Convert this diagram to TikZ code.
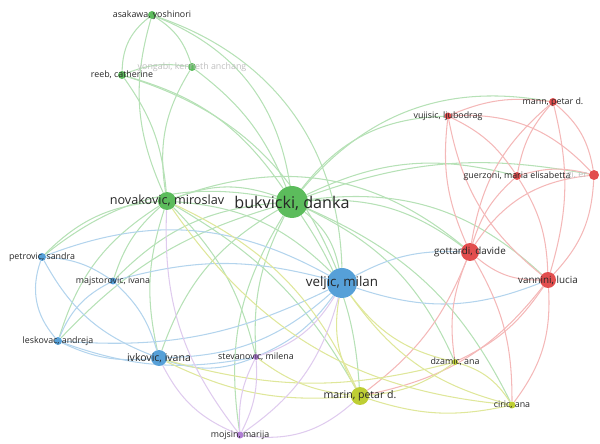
\documentclass[tikz,border=0pt]{standalone}
\usepackage{fontspec}
\setmainfont{Open Sans}
\usetikzlibrary{backgrounds}

\definecolor{vgreen}{RGB}{92,188,92}
\definecolor{vblue}{RGB}{86,160,216}
\definecolor{vred}{RGB}{226,78,78}
\definecolor{vyellow}{RGB}{190,206,52}
\definecolor{vpurple}{RGB}{176,126,212}

\tikzset{
  au/.style={circle, inner sep=0pt, minimum size=#1*0.71pt},
  lbl/.style={font=\fontsize{#1}{#1}\selectfont, text=black!85, inner sep=0pt},
  gedge/.style={vgreen!45, line width=0.75pt},
  bedge/.style={vblue!45, line width=0.75pt},
  redge/.style={vred!40, line width=0.75pt},
  yedge/.style={vyellow!50, line width=0.75pt},
  pedge/.style={vpurple!40, line width=0.75pt},
}

\begin{document}
\begin{tikzpicture}[x=0.025cm, y=-0.025cm]
\useasboundingbox (0,0) rectangle (600,444);

\node[au=8, fill=vgreen, label={[lbl=6.3]center:asakawa, yoshinori}] (asakawa) at (152,15) {};
\node[au=8, fill=vgreen, label={[lbl=6.3]center:reeb, catherine}] (reeb) at (122,75) {};
\node[au=8, fill=vgreen, label={[lbl=6.3, text=black!25]center:yongabi, kenneth anchang}] (yongabi) at (192,67) {};
\node[au=18, fill=vgreen, label={[lbl=9]center:novakovic, miroslav}] (novakovic) at (167,201) {};
\node[au=32, fill=vgreen, label={[lbl=11.5, yshift=-1pt]center:bukvicki, danka}] (bukvicki) at (292,202) {};

\node[au=30, fill=vblue, label={[lbl=9.5]center:veljic, milan}] (veljic) at (342,283) {};
\node[au=16, fill=vblue, label={[lbl=7.5]center:ivkovic, ivana}] (ivkovic) at (159,358) {};
\node[au=8, fill=vblue, label={[lbl=6.3]center:petrovic, sandra}] (petrovic) at (42,257) {};
\node[au=7, fill=vblue, label={[lbl=6.3]center:majstorovic, ivana}] (majstorovic) at (113,281) {};
\node[au=8, fill=vblue, label={[lbl=6.3]center:leskovac, andreja}] (leskovac) at (58,341) {};

\node[au=18, fill=vred, label={[lbl=7]center:gottardi, davide}] (gottardi) at (470,252) {};
\node[au=16, fill=vred, label={[lbl=7]center:vannini, lucia}] (vannini) at (548,280) {};
\node[au=7, fill=vred, label={[lbl=6.3]center:vujisic, ljubodrag}] (vujisic) at (448,116) {};
\node[au=8, fill=vred, label={[lbl=6.3]center:mann, petar d.}] (mann) at (553,102) {};
\node[au=8, fill=vred, label={[lbl=6.3]center:guerzoni, maria elisabetta}] (guerzoni) at (517,176) {};
\node[au=10, fill=vred, label={[lbl=6.3, text=black!25, anchor=east, xshift=-1pt]west:gi, er}] (tagi) at (594,175) {};

\node[au=18, fill=vyellow, label={[lbl=7.5]center:marin, petar d.}] (marin) at (360,396) {};
\node[au=6, fill=vyellow, label={[lbl=6.3]center:dzamic, ana}] (dzamic) at (455,362) {};
\node[au=7, fill=vyellow, label={[lbl=6.3]center:ciric, ana}] (ciric) at (512,405) {};

\node[au=6, fill=vpurple, label={[lbl=6.3]center:stevanovic, milena}] (stevanovic) at (256,357) {};
\node[au=7, fill=vpurple, label={[lbl=6.3]center:mojsin, marija}] (mojsin) at (240,435) {};

\begin{scope}[on background layer]
\draw[gedge] (asakawa) to[bend right=25] (reeb);
\draw[gedge] (asakawa) to[bend left=20] (yongabi);
\draw[gedge] (asakawa) to[bend right=20] (novakovic);
\draw[gedge] (asakawa) to[bend left=30] (bukvicki);
\draw[gedge] (asakawa) to[bend left=35] (veljic);
\draw[gedge] (reeb) to[bend left=15] (yongabi);
\draw[gedge] (reeb) to[bend left=15] (novakovic);
\draw[gedge] (reeb) to[bend left=20] (bukvicki);
\draw[gedge] (reeb) to[bend left=25] (veljic);
\draw[gedge] (yongabi) to[bend right=20] (novakovic);
\draw[gedge] (yongabi) to[bend left=15] (bukvicki);
\draw[gedge] (novakovic) to[bend left=20] (bukvicki);
\draw[gedge] (novakovic) to[bend left=20] (veljic);
\draw[gedge] (novakovic) to[bend right=15] (ivkovic);
\draw[gedge] (novakovic) to[bend right=20] (petrovic);
\draw[gedge] (novakovic) to[bend right=15] (majstorovic);
\draw[gedge] (novakovic) to[bend right=20] (leskovac);
\draw[gedge] (novakovic) to[bend left=15] (marin);
\draw[gedge] (novakovic) to[bend left=30] (gottardi);
\draw[gedge] (novakovic) to[bend left=15] (stevanovic);
\draw[gedge] (bukvicki) to[bend left=20] (veljic);
\draw[gedge] (bukvicki) to[bend right=20] (ivkovic);
\draw[gedge] (bukvicki) to[bend right=25] (petrovic);
\draw[gedge] (bukvicki) to[bend right=20] (majstorovic);
\draw[gedge] (bukvicki) to[bend right=15] (leskovac);
\draw[gedge] (bukvicki) to[bend left=20] (gottardi);
\draw[gedge] (bukvicki) to[bend left=25] (vannini);
\draw[gedge] (bukvicki) to[bend left=25] (vujisic);
\draw[gedge] (bukvicki) to[bend left=30] (mann);
\draw[gedge] (bukvicki) to[bend left=20] (guerzoni);
\draw[gedge] (bukvicki) to[bend left=15] (tagi);
\draw[gedge] (bukvicki) to[bend left=15] (marin);
\draw[gedge] (bukvicki) to[bend left=20] (dzamic);
\draw[gedge] (bukvicki) to[bend left=20] (ciric);
\draw[gedge] (bukvicki) to[bend right=15] (stevanovic);
\draw[gedge] (bukvicki) to[bend right=20] (mojsin);

\draw[bedge] (veljic) to[bend left=20] (ivkovic);
\draw[bedge] (veljic) to[bend right=25] (petrovic);
\draw[bedge] (veljic) to[bend right=15] (majstorovic);
\draw[bedge] (veljic) to[bend left=15] (leskovac);
\draw[bedge] (veljic) to[bend left=15] (gottardi);
\draw[bedge] (veljic) to[bend right=20] (vannini);
\draw[bedge] (veljic) to[bend left=15] (stevanovic);
\draw[bedge] (ivkovic) to[bend left=20] (petrovic);
\draw[bedge] (ivkovic) to[bend right=15] (majstorovic);
\draw[bedge] (ivkovic) to[bend left=15] (leskovac);
\draw[bedge] (ivkovic) to[bend right=20] (stevanovic);
\draw[bedge] (petrovic) to[bend left=15] (majstorovic);
\draw[bedge] (petrovic) to[bend right=30] (leskovac);
\draw[bedge] (majstorovic) to[bend right=20] (leskovac);
\draw[bedge] (leskovac) to[bend right=15] (stevanovic);

\draw[redge] (gottardi) to[bend right=20] (vannini);
\draw[redge] (gottardi) to[bend left=15] (vujisic);
\draw[redge] (gottardi) to[bend left=20] (mann);
\draw[redge] (gottardi) to[bend left=15] (guerzoni);
\draw[redge] (gottardi) to[bend left=25] (tagi);
\draw[redge] (gottardi) to[bend left=15] (marin);
\draw[redge] (gottardi) to[bend right=15] (dzamic);
\draw[redge] (gottardi) to[bend left=15] (ciric);
\draw[redge] (vannini) to[bend left=20] (vujisic);
\draw[redge] (vannini) to[bend right=15] (mann);
\draw[redge] (vannini) to[bend right=15] (guerzoni);
\draw[redge] (vannini) to[bend right=20] (tagi);
\draw[redge] (vannini) to[bend left=20] (marin);
\draw[redge] (vannini) to[bend left=15] (dzamic);
\draw[redge] (vannini) to[bend left=20] (ciric);
\draw[redge] (vujisic) to[bend left=15] (mann);
\draw[redge] (vujisic) to[bend left=15] (guerzoni);
\draw[redge] (vujisic) to[bend left=25] (tagi);
\draw[redge] (mann) to[bend right=15] (guerzoni);
\draw[redge] (mann) to[bend left=20] (tagi);
\draw[redge] (guerzoni) to[bend left=15] (tagi);

\draw[yedge] (marin) to[bend right=15] (dzamic);
\draw[yedge] (marin) to[bend right=15] (ciric);
\draw[yedge] (dzamic) to[bend left=20] (ciric);
\draw[yedge] (marin) to[bend left=15] (ivkovic);
\draw[yedge] (marin) to[bend left=15] (stevanovic);
\draw[yedge] (marin) to[bend left=20] (veljic);
\draw[yedge] (marin) to[bend right=20] (novakovic);
\draw[yedge] (dzamic) to[bend left=20] (veljic);
\draw[yedge] (dzamic) to[bend left=15] (ivkovic);
\draw[yedge] (ciric) to[bend left=20] (veljic);
\draw[yedge] (ciric) to[bend left=25] (novakovic);

\draw[pedge] (stevanovic) to[bend left=15] (mojsin);
\draw[pedge] (stevanovic) to[bend right=15] (mojsin);
\draw[pedge] (mojsin) to[bend left=20] (ivkovic);
\draw[pedge] (mojsin) to[bend right=20] (veljic);
\draw[pedge] (mojsin) to[bend right=25] (marin);
\draw[pedge] (mojsin) to[bend left=20] (novakovic);
\draw[pedge] (stevanovic) to[bend right=20] (veljic);
\end{scope}
\end{tikzpicture}
\end{document}
